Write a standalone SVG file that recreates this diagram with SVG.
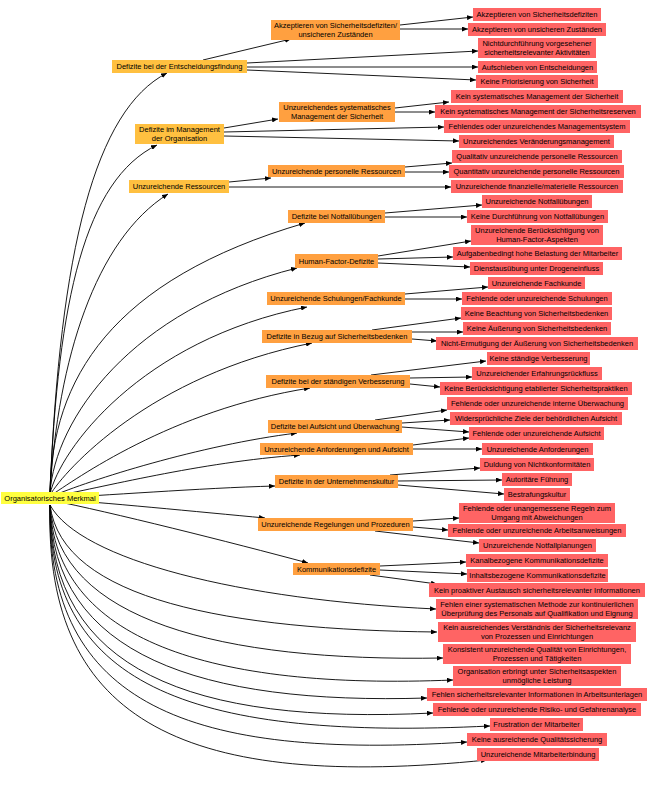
<svg xmlns="http://www.w3.org/2000/svg" width="649" height="785" viewBox="0 0 649 785">
<style>
text{font-family:"Liberation Sans",Arial,sans-serif;font-size:7.5px;fill:#000;text-anchor:middle}
.root rect{fill:#ffff40}
.l1 rect{fill:#ffc040}
.l2 rect{fill:#ffa040}
.lf rect{fill:#ff6464}
#edges path{fill:none;stroke:#000;stroke-width:0.9;marker-end:url(#ah)}
</style>
<defs>
<marker id="ah" markerUnits="userSpaceOnUse" markerWidth="7" markerHeight="5" refX="6" refY="2.5" orient="auto">
<path d="M0,0 L6,2.5 L0,5 z" fill="#000"/>
</marker>
</defs>
<rect width="649" height="785" fill="#fff"/>
<g id="edges">
<path d="M50,492 C60,250 95,110 167,73"/>
<path d="M50,492 C58,300 85,180 157,145"/>
<path d="M50,492 C58,360 95,240 168,194"/>
<path d="M50,492 C52,380 110,280 305,223"/>
<path d="M50,493 C55,420 130,310 297,268"/>
<path d="M50,494 C60,450 140,340 307,307"/>
<path d="M50,495 C65,470 150,375 312,343"/>
<path d="M50,496 C75,480 170,410 310,388"/>
<path d="M50,497 C90,480 200,445 297,433"/>
<path d="M50,497 C100,488 200,462 300,455"/>
<path d="M50,498 C100,496 200,488 275,486"/>
<path d="M50,499 C100,502 200,512 265,518"/>
<path d="M50,500 C110,512 230,542 308,563"/>
<path d="M50,505 C80,560 240,600 436,609"/>
<path d="M50,505 C62,600 230,630 437,632"/>
<path d="M50,505 C58,620 220,662 443,658"/>
<path d="M50,505 C55,640 210,690 453,680"/>
<path d="M50,505 C52,655 200,705 427,698"/>
<path d="M50,505 C50,670 190,725 433,713"/>
<path d="M50,505 C48,690 200,740 490,726"/>
<path d="M50,505 C46,705 190,760 467,742"/>
<path d="M50,505 C44,725 190,790 487,760"/>
<path d="M203,60 L291,39"/>
<path d="M247,63 L478,51"/>
<path d="M247,67 L478,67"/>
<path d="M247,70 L476,80"/>
<path d="M400,25 L473,17"/>
<path d="M400,29 L468,29"/>
<path d="M224,128 L278,119"/>
<path d="M224,132 L444,127"/>
<path d="M224,136 L459,141"/>
<path d="M395,108 L449,102"/>
<path d="M395,112 L435,112"/>
<path d="M229,182 L271,178"/>
<path d="M229,187 L451,187"/>
<path d="M405,167 L452,163"/>
<path d="M405,172 L449,172"/>
<path d="M385,213 L482,205"/>
<path d="M385,217 L467,217"/>
<path d="M378,256 L471,241"/>
<path d="M378,259 L453,257"/>
<path d="M378,263 L470,267"/>
<path d="M405,294 L488,287"/>
<path d="M405,299 L462,299"/>
<path d="M372,330 L461,318"/>
<path d="M412,332 L463,332"/>
<path d="M412,339 L437,341"/>
<path d="M371,375 L486,361"/>
<path d="M410,378 L472,377"/>
<path d="M410,384 L440,387"/>
<path d="M375,420 L447,410"/>
<path d="M402,423 L450,420"/>
<path d="M402,427 L469,432"/>
<path d="M413,445 L469,438"/>
<path d="M413,449 L482,449"/>
<path d="M390,475 L480,468"/>
<path d="M398,481 L502,480"/>
<path d="M398,485 L504,494"/>
<path d="M413,521 L459,518"/>
<path d="M413,527 L448,530"/>
<path d="M375,531 L479,543"/>
<path d="M380,566 L466,562"/>
<path d="M380,570 L467,574"/>
<path d="M370,575 L437,584"/>
</g>
<g id="root" class="root"><rect x="1" y="492" width="98" height="12"/><text x="50" y="500.7">Organisatorisches Merkmal</text></g>
<g id="n1" class="l1"><rect x="112" y="60" width="135" height="13"/><text x="179.5" y="69.2">Defizite bei der Entscheidungsfindung</text></g>
<g id="n2" class="l1"><rect x="135" y="124" width="89" height="20"/><text x="179.5" y="132.3">Defizite im Management</text><text x="179.5" y="141.3">der Organisation</text></g>
<g id="n3" class="l1"><rect x="129" y="180" width="100" height="13"/><text x="179" y="189.2">Unzureichende Ressourcen</text></g>
<g id="n4" class="l2"><rect x="271" y="20" width="129" height="20"/><text x="335.5" y="28.3">Akzeptieren von Sicherheitsdefiziten/</text><text x="335.5" y="37.3">unsicheren Zuständen</text></g>
<g id="n5" class="l2"><rect x="279" y="102" width="116" height="20"/><text x="337" y="110.3">Unzureichendes systematisches</text><text x="337" y="119.3">Management der Sicherheit</text></g>
<g id="n6" class="l2"><rect x="268" y="165" width="137" height="12"/><text x="336.5" y="173.7">Unzureichende personelle Ressourcen</text></g>
<g id="n7" class="l2"><rect x="288" y="210" width="97" height="13"/><text x="336.5" y="219.2">Defizite bei Notfallübungen</text></g>
<g id="n8" class="l2"><rect x="295" y="254" width="83" height="14"/><text x="336.5" y="263.7">Human-Factor-Defizite</text></g>
<g id="n9" class="l2"><rect x="267" y="292" width="138" height="13"/><text x="336" y="301.2">Unzureichende Schulungen/Fachkunde</text></g>
<g id="n10" class="l2"><rect x="262" y="330" width="150" height="13"/><text x="337" y="339.2">Defizite in Bezug auf Sicherheitsbedenken</text></g>
<g id="n11" class="l2"><rect x="266" y="375" width="144" height="13"/><text x="338" y="384.2">Defizite bei der ständigen Verbesserung</text></g>
<g id="n12" class="l2"><rect x="268" y="420" width="134" height="13"/><text x="335" y="429.2">Defizite bei Aufsicht und Überwachung</text></g>
<g id="n13" class="l2"><rect x="260" y="443" width="153" height="12"/><text x="336.5" y="451.7">Unzureichende Anforderungen und Aufsicht</text></g>
<g id="n14" class="l2"><rect x="275" y="475" width="123" height="13"/><text x="336.5" y="484.2">Defizite in der Unternehmenskultur</text></g>
<g id="n15" class="l2"><rect x="258" y="518" width="155" height="13"/><text x="335.5" y="527.2">Unzureichende Regelungen und Prozeduren</text></g>
<g id="n16" class="l2"><rect x="293" y="563" width="87" height="12"/><text x="336.5" y="571.7">Kommunikationsdefizite</text></g>
<g id="f1" class="lf"><rect x="473" y="8" width="128" height="13"/><text x="537" y="17.2">Akzeptieren von Sicherheitsdefiziten</text></g>
<g id="f2" class="lf"><rect x="468" y="23" width="138" height="13"/><text x="537" y="32.2">Akzeptieren von unsicheren Zuständen</text></g>
<g id="f3" class="lf"><rect x="478" y="38" width="118" height="20"/><text x="537" y="46.3">Nichtdurchführung vorgesehener</text><text x="537" y="55.3">sicherheitsrelevanter Aktivitäten</text></g>
<g id="f4" class="lf"><rect x="478" y="61" width="119" height="12"/><text x="537.5" y="69.7">Aufschieben von Entscheidungen</text></g>
<g id="f5" class="lf"><rect x="476" y="75" width="122" height="13"/><text x="537" y="84.2">Keine Priorisierung von Sicherheit</text></g>
<g id="f6" class="lf"><rect x="451" y="90" width="172" height="13"/><text x="537" y="99.2">Kein systematisches Management der Sicherheit</text></g>
<g id="f7" class="lf"><rect x="435" y="105" width="206" height="13"/><text x="538" y="114.2">Kein systematisches Management der Sicherheitsreserven</text></g>
<g id="f8" class="lf"><rect x="444" y="120" width="186" height="13"/><text x="537" y="129.2">Fehlendes oder unzureichendes Managementsystem</text></g>
<g id="f9" class="lf"><rect x="459" y="135" width="155" height="13"/><text x="536.5" y="144.2">Unzureichendes Veränderungsmanagement</text></g>
<g id="f10" class="lf"><rect x="452" y="150" width="170" height="13"/><text x="537" y="159.2">Qualitativ unzureichende personelle Ressourcen</text></g>
<g id="f11" class="lf"><rect x="449" y="165" width="175" height="13"/><text x="536.5" y="174.2">Quantitativ unzureichende personelle Ressourcen</text></g>
<g id="f12" class="lf"><rect x="451" y="180" width="172" height="13"/><text x="537" y="189.2">Unzureichende finanzielle/materielle Ressourcen</text></g>
<g id="f13" class="lf"><rect x="482" y="195" width="110" height="13"/><text x="537" y="204.2">Unzureichende Notfallübungen</text></g>
<g id="f14" class="lf"><rect x="467" y="210" width="141" height="13"/><text x="537.5" y="219.2">Keine Durchführung von Notfallübungen</text></g>
<g id="f15" class="lf"><rect x="471" y="225" width="132" height="20"/><text x="537" y="233.3">Unzureichende Berücksichtigung von</text><text x="537" y="242.3">Human-Factor-Aspekten</text></g>
<g id="f16" class="lf"><rect x="453" y="247" width="169" height="13"/><text x="537.5" y="256.2">Aufgabenbedingt hohe Belastung der Mitarbeiter</text></g>
<g id="f17" class="lf"><rect x="470" y="262" width="133" height="13"/><text x="536.5" y="271.2">Dienstausübung unter Drogeneinfluss</text></g>
<g id="f18" class="lf"><rect x="488" y="277" width="97" height="12"/><text x="536.5" y="285.7">Unzureichende Fachkunde</text></g>
<g id="f19" class="lf"><rect x="462" y="292" width="150" height="13"/><text x="537" y="301.2">Fehlende oder unzureichende Schulungen</text></g>
<g id="f20" class="lf"><rect x="461" y="307" width="151" height="13"/><text x="536.5" y="316.2">Keine Beachtung von Sicherheitsbedenken</text></g>
<g id="f21" class="lf"><rect x="463" y="322" width="148" height="13"/><text x="537" y="331.2">Keine Äußerung von Sicherheitsbedenken</text></g>
<g id="f22" class="lf"><rect x="436" y="337" width="202" height="13"/><text x="537" y="346.2">Nicht-Ermutigung der Äußerung von Sicherheitsbedenken</text></g>
<g id="f23" class="lf"><rect x="487" y="352" width="103" height="13"/><text x="538.5" y="361.2">Keine ständige Verbesserung</text></g>
<g id="f24" class="lf"><rect x="472" y="367" width="130" height="13"/><text x="537" y="376.2">Unzureichender Erfahrungsrückfluss</text></g>
<g id="f25" class="lf"><rect x="440" y="382" width="192" height="13"/><text x="536" y="391.2">Keine Berücksichtigung etablierter Sicherheitspraktiken</text></g>
<g id="f26" class="lf"><rect x="447" y="397" width="181" height="13"/><text x="537.5" y="406.2">Fehlende oder unzureichende interne Überwachung</text></g>
<g id="f27" class="lf"><rect x="450" y="412" width="172" height="13"/><text x="536" y="421.2">Widersprüchliche Ziele der behördlichen Aufsicht</text></g>
<g id="f28" class="lf"><rect x="469" y="427" width="135" height="13"/><text x="536.5" y="436.2">Fehlende oder unzureichende Aufsicht</text></g>
<g id="f29" class="lf"><rect x="482" y="443" width="111" height="12"/><text x="537.5" y="451.7">Unzureichende Anforderungen</text></g>
<g id="f30" class="lf"><rect x="480" y="458" width="114" height="13"/><text x="537" y="467.2">Duldung von Nichtkonformitäten</text></g>
<g id="f31" class="lf"><rect x="502" y="473" width="70" height="13"/><text x="537" y="482.2">Autoritäre Führung</text></g>
<g id="f32" class="lf"><rect x="504" y="488" width="66" height="13"/><text x="537" y="497.2">Bestrafungskultur</text></g>
<g id="f33" class="lf"><rect x="459" y="503" width="156" height="20"/><text x="537" y="511.3">Fehlende oder unangemessene Regeln zum</text><text x="537" y="520.3">Umgang mit Abweichungen</text></g>
<g id="f34" class="lf"><rect x="448" y="524" width="178" height="13"/><text x="537" y="533.2">Fehlende oder unzureichende Arbeitsanweisungen</text></g>
<g id="f35" class="lf"><rect x="479" y="539" width="117" height="13"/><text x="537.5" y="548.2">Unzureichende Notfallplanungen</text></g>
<g id="f36" class="lf"><rect x="466" y="554" width="142" height="13"/><text x="537" y="563.2">Kanalbezogene Kommunikationsdefizite</text></g>
<g id="f37" class="lf"><rect x="467" y="569" width="141" height="13"/><text x="537.5" y="578.2">Inhaltsbezogene Kommunikationsdefizite</text></g>
<g id="f38" class="lf"><rect x="429" y="583" width="216" height="14"/><text x="537" y="592.7">Kein proaktiver Austausch sicherheitsrelevanter Informationen</text></g>
<g id="f39" class="lf"><rect x="436" y="599" width="202" height="20"/><text x="537" y="607.3">Fehlen einer systematischen Methode zur kontinuierlichen</text><text x="537" y="616.3">Überprüfung des Personals auf Qualifikation und Eignung</text></g>
<g id="f40" class="lf"><rect x="438" y="622" width="198" height="20"/><text x="537" y="630.3">Kein ausreichendes Verständnis der Sicherheitsrelevanz</text><text x="537" y="639.3">von Prozessen und Einrichtungen</text></g>
<g id="f41" class="lf"><rect x="443" y="644" width="188" height="20"/><text x="537" y="652.3">Konsistent unzureichende Qualität von Einrichtungen,</text><text x="537" y="661.3">Prozessen und Tätigkeiten</text></g>
<g id="f42" class="lf"><rect x="453" y="666" width="168" height="20"/><text x="537" y="674.3">Organisation erbringt unter Sicherheitsaspekten</text><text x="537" y="683.3">unmögliche Leistung</text></g>
<g id="f43" class="lf"><rect x="427" y="688" width="220" height="13"/><text x="537" y="697.2">Fehlen sicherheitsrelevanter Informationen in Arbeitsunterlagen</text></g>
<g id="f44" class="lf"><rect x="433" y="703" width="208" height="13"/><text x="537" y="712.2">Fehlende oder unzureichende Risiko- und Gefahrenanalyse</text></g>
<g id="f45" class="lf"><rect x="490" y="718" width="93" height="13"/><text x="536.5" y="727.2">Frustration der Mitarbeiter</text></g>
<g id="f46" class="lf"><rect x="467" y="733" width="140" height="13"/><text x="537" y="742.2">Keine ausreichende Qualitätssicherung</text></g>
<g id="f47" class="lf"><rect x="477" y="748" width="122" height="13"/><text x="538" y="757.2">Unzureichende Mitarbeiterbindung</text></g>
</svg>
